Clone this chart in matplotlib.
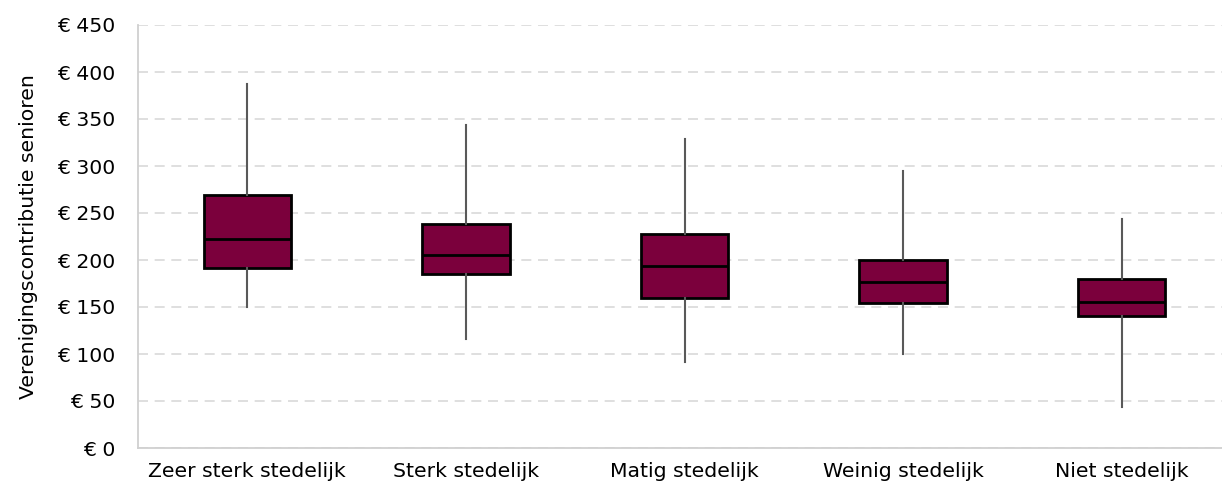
import matplotlib
matplotlib.use("Agg")
import matplotlib.pyplot as plt

categories = ["Zeer sterk stedelijk", "Sterk stedelijk", "Matig stedelijk",
              "Weinig stedelijk", "Niet stedelijk"]
whislo = [150, 116, 91, 100, 44]
q1 = [191, 185, 160, 154, 140]
med = [222, 205, 194, 177, 155]
q3 = [269, 238, 228, 200, 180]
whishi = [387, 344, 329, 295, 244]
yticks = [0, 50, 100, 150, 200, 250, 300, 350, 400, 450]
ylabel = "Verenigingscontributie senioren"

W, H = 1222, 484
fig = plt.figure(figsize=(W / 100, H / 100), dpi=100)
left, right, bottom, top = 138, 1231, 448, 25
ax = fig.add_axes([left / W, 1 - bottom / H, (right - left) / W, (bottom - top) / H])

stats = []
for i, c in enumerate(categories):
    stats.append(dict(label=c, whislo=whislo[i], q1=q1[i], med=med[i],
                      q3=q3[i], whishi=whishi[i], fliers=[]))

ax.bxp(stats, positions=range(len(categories)), widths=0.40, patch_artist=True,
       showcaps=False,
       boxprops=dict(facecolor="#7B003C", edgecolor="black", linewidth=2.0),
       medianprops=dict(color="black", linewidth=2.0),
       whiskerprops=dict(color="#595959", linewidth=1.5),
       zorder=3)

ax.set_xlim(-0.5, 4.5)
ax.set_ylim(0, 450)
ax.set_yticks(yticks)
ax.set_yticklabels([f"€ {v}" for v in yticks])
ax.yaxis.grid(True, linestyle=(0, (6, 4)), color="#D9D9D9", linewidth=1.2, zorder=0)
ax.set_axisbelow(True)
for s in ["top", "right"]:
    ax.spines[s].set_visible(False)
for s in ["left", "bottom"]:
    ax.spines[s].set_color("#D0D0D0")
    ax.spines[s].set_linewidth(1.3)
ax.tick_params(axis="both", length=0, labelsize=14.7, colors="black")
ax.tick_params(axis="y", pad=16)
ax.tick_params(axis="x", pad=10)
ax.set_ylabel(ylabel, fontsize=14.7, labelpad=14)

fig.savefig("out.png", dpi=100)
